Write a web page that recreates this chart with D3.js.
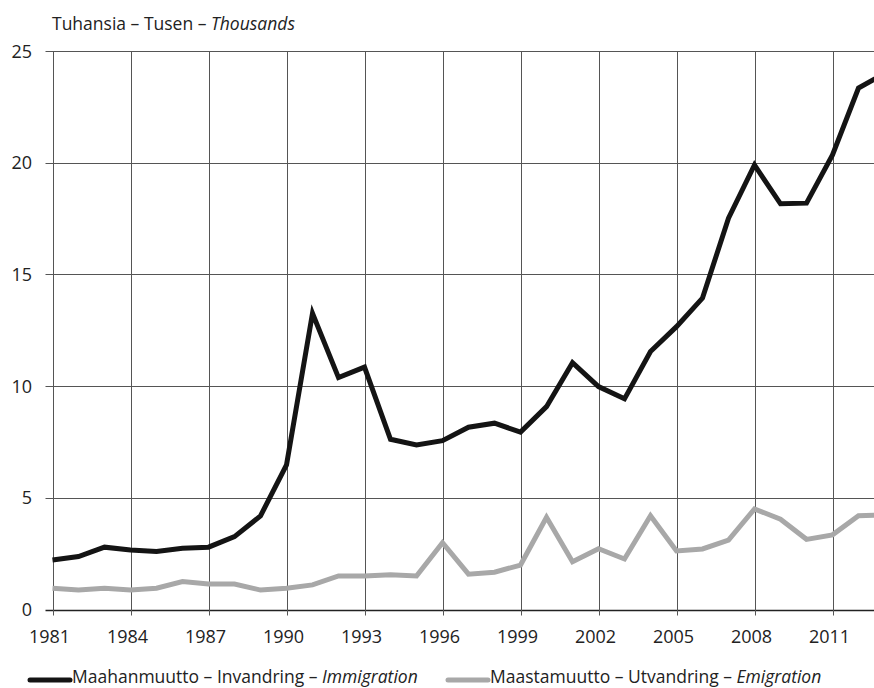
<!DOCTYPE html>
<html>
<head>
<meta charset="utf-8">
<script src="https://cdn.jsdelivr.net/npm/d3@7"></script>
<style>
body { margin: 0; background: #fff; }
svg { display: block; font-family: "Open Sans", "Noto Sans", sans-serif; }
</style>
</head>
<body>
<script>
// vuodet ja sarjat (tuhansia)
var years = [1981, 1982, 1983, 1984, 1985, 1986, 1987, 1988, 1989, 1990,
    1991, 1992, 1993, 1994, 1995, 1996, 1997, 1998, 1999, 2000,
    2001, 2002, 2003, 2004, 2005, 2006, 2007, 2008, 2009, 2010,
    2011, 2012, 2013];
var immigration = [2.22, 2.37, 2.79, 2.66, 2.6, 2.74, 2.79, 3.26, 4.19, 6.47,
    13.26, 10.38, 10.85, 7.62, 7.37, 7.56, 8.16, 8.34, 7.94, 9.08,
    11.05, 9.98, 9.43, 11.55, 12.66, 13.94, 17.52, 19.9, 18.16, 18.19,
    20.35, 23.34, 24.0];
var emigration = [0.95, 0.87, 0.95, 0.87, 0.95, 1.25, 1.14, 1.14, 0.87, 0.95,
    1.1, 1.5, 1.5, 1.55, 1.5, 2.99, 1.58, 1.67, 1.99, 4.13,
    2.14, 2.72, 2.26, 4.2, 2.62, 2.71, 3.11, 4.5, 4.04, 3.14,
    3.34, 4.2, 4.23];
var xTicks = [1981, 1984, 1987, 1990, 1993, 1996, 1999, 2002, 2005, 2008, 2011];
var yTicks = [0, 5, 10, 15, 20, 25];
var seriesNames = ["Maahanmuutto – Invandring – ", "Maastamuutto – Utvandring – "];
var seriesNamesEn = ["Immigration", "Emigration"];
var seriesColors = ["#141414", "#a8a8a8"];

//размеры
var widthSVG = 874;
var heightSVG = 688;
var x0 = 52.5;
var yTop = 51;
var yBottom = 609.5;

var canvas = d3.select("body").append("svg")
    .attr("width", widthSVG)
    .attr("height", heightSVG)
    .attr("viewBox", "0 0 " + widthSVG + " " + heightSVG);

var x = d3.scaleLinear().domain([1981, 2013]).range([x0, x0 + 32 * 26]);
var y = d3.scaleLinear().domain([0, 25]).range([yBottom, yTop]);

// otsikko
var title = canvas.append("text")
    .attr("x", 52)
    .attr("y", 30)
    .attr("font-size", 17.5)
    .attr("fill", "#222");
title.append("tspan").text("Tuhansia – Tusen – ");
title.append("tspan").attr("font-style", "italic").text("Thousands");

// ruudukko
canvas.append("g")
    .selectAll("line")
    .data(yTicks)
    .join("line")
    .attr("x1", x0 - 7)
    .attr("x2", widthSVG)
    .attr("y1", function(d) { return Math.round(y(d)) + 0.5; })
    .attr("y2", function(d) { return Math.round(y(d)) + 0.5; })
    .attr("stroke", function(d) { return d == 0 ? "#222" : "#555"; })
    .attr("stroke-width", function(d) { return d == 0 ? 1.5 : 1; });

canvas.append("g")
    .selectAll("line")
    .data(xTicks)
    .join("line")
    .attr("x1", function(d) { return Math.round(x(d)) + 0.5; })
    .attr("x2", function(d) { return Math.round(x(d)) + 0.5; })
    .attr("y1", yTop)
    .attr("y2", yBottom + 6)
    .attr("stroke", "#555")
    .attr("stroke-width", 1);

// akselien tekstit
canvas.append("g")
    .selectAll("text")
    .data(yTicks)
    .join("text")
    .attr("x", 32)
    .attr("y", function(d) { return y(d) + 6.5; })
    .attr("text-anchor", "end")
    .attr("font-size", 18)
    .attr("fill", "#222")
    .text(function(d) { return d; });

canvas.append("g")
    .selectAll("text")
    .data(xTicks)
    .join("text")
    .attr("x", function(d) { return x(d) - 3; })
    .attr("y", 643)
    .attr("text-anchor", "middle")
    .attr("font-size", 18)
    .attr("fill", "#222")
    .text(function(d) { return d; });

// viivat
var line = d3.line()
    .x(function(d, i) { return x(years[i]); })
    .y(function(d) { return y(d); });

[emigration, immigration].forEach(function(series, k) {
    canvas.append("path")
        .attr("d", line(series))
        .attr("fill", "none")
        .attr("stroke", seriesColors[1 - k])
        .attr("stroke-width", 5)
        .attr("stroke-linejoin", "miter");
});

// selite
var legendX = [30, 448];
for (var i = 0; i < 2; i++) {
    canvas.append("line")
        .attr("x1", legendX[i])
        .attr("x2", legendX[i] + 40)
        .attr("y1", 680)
        .attr("y2", 680)
        .attr("stroke", seriesColors[i])
        .attr("stroke-width", 5)
        .attr("stroke-linecap", "round");
    var t = canvas.append("text")
        .attr("x", legendX[i] + 42)
        .attr("y", 683)
        .attr("font-size", 17.5)
        .attr("fill", "#222");
    t.append("tspan").text(seriesNames[i]);
    t.append("tspan").attr("font-style", "italic").text(seriesNamesEn[i]);
}
</script>
</body>
</html>
